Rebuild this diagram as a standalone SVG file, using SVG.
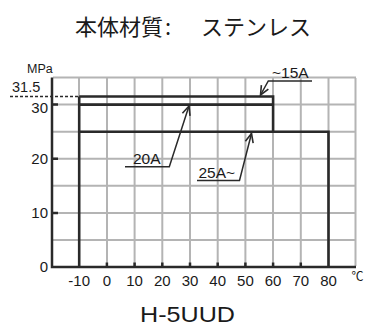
<svg xmlns="http://www.w3.org/2000/svg" width="365" height="327" viewBox="0 0 365 327">
<defs>
<style>
.axis{stroke:#2a2a2a;stroke-width:2.5;fill:none}
.curve{stroke:#2a2a2a;stroke-width:2.6;fill:none}
.lead{stroke:#2a2a2a;stroke-width:1.5;fill:none}
.t{font-family:"Liberation Sans",Arial,sans-serif;fill:#1a1a1a}
.lab{font-size:15.5px}
.num{font-size:15px}
</style>
<marker id="arr" markerUnits="userSpaceOnUse" markerWidth="12" markerHeight="12" viewBox="-10 -6 12 12" refX="0" refY="0" orient="auto">
<path d="M-9,-4 L0,0 L-9,4" fill="none" stroke="#2a2a2a" stroke-width="1.6"/>
</marker>
</defs>
<rect x="0" y="0" width="365" height="327" fill="#ffffff"/>
<text class="t" x="75" y="35" style="font-family:'Noto Sans CJK JP','Noto Sans CJK SC',sans-serif;font-size:22px">本体材質<tspan x="165">:</tspan><tspan x="201">ステンレス</tspan></text>
<path id="vgrid" d="M79,78V266M107,78V266M134.6,78V266M162.3,78V266M190,78V266M217.7,78V266M245.4,78V266M273,78V266M300.8,78V266M328.5,78V266M355.5,78V266" stroke="#b4b4b4" stroke-width="2" fill="none"/>
<path id="hgrid" d="M53,77.5H356M53,104.6H356M53,131.7H356M53,158.7H356M53,185.8H356M53,212.9H356M53,240H356" stroke="#b4b4b4" stroke-width="2" fill="none"/>
<g id="axes">
<path class="axis" d="M52,77.5V267H356"/>
<path class="axis" stroke-width="2" d="M52,104.6H58M52,158.7H58M52,212.9H58M106.9,267V262.5M134.6,267V262.5M162.3,267V262.5M190,267V262.5M217.7,267V262.5M245.4,267V262.5M273.1,267V262.5M300.8,267V262.5"/>
<path d="M10,96.5H79" stroke="#2a2a2a" stroke-width="1.5" stroke-dasharray="3,2" fill="none"/>
<text class="t" x="27" y="72.5" style="font-size:12.5px">MPa</text>
<text class="t" x="12" y="92" style="font-size:14.5px">31.5</text>
<g class="t num" text-anchor="end">
<text x="48" y="113">30</text>
<text x="48" y="164">20</text>
<text x="48" y="218">10</text>
<text x="48" y="271.5">0</text>
</g>
<g class="t num" text-anchor="middle">
<text x="79.2" y="286">-10</text>
<text x="106.9" y="286">0</text>
<text x="134.6" y="286">10</text>
<text x="162.3" y="286">20</text>
<text x="190" y="286">30</text>
<text x="217.7" y="286">40</text>
<text x="245.4" y="286">50</text>
<text x="273.1" y="286">60</text>
<text x="300.8" y="286">70</text>
<text x="328.5" y="286">80</text>
</g>
<text class="t" x="351.5" y="281" style="font-family:'Noto Sans CJK JP',sans-serif;font-size:12px">℃</text>
</g>
<g id="range-15A">
<path class="curve" d="M79.2,96.5H273.1V131.7"/>
</g>
<g id="range-20A">
<path class="curve" d="M79.2,104.6H273.1"/>
</g>
<g id="range-25A">
<path class="curve" d="M79.2,267V96.5M79.2,131.7H328.5V267"/>
</g>
<g id="connectors">
<path class="lead" d="M312,81H268.3L260.5,95" marker-end="url(#arr)"/>
<path class="lead" d="M125,166.7H169.3L189,106" marker-end="url(#arr)"/>
<path class="lead" d="M197,180.5H239.5L251.5,133.5" marker-end="url(#arr)"/>
</g>
<g id="labels" class="t lab">
<text x="272" y="77.8">~15A</text>
<text x="133" y="163.5">20A</text>
<text x="198.5" y="178">25A~</text>
</g>
<text class="t" x="140" y="322.3" textLength="95" lengthAdjust="spacingAndGlyphs" style="font-size:22px">H-5UUD</text>
</svg>
